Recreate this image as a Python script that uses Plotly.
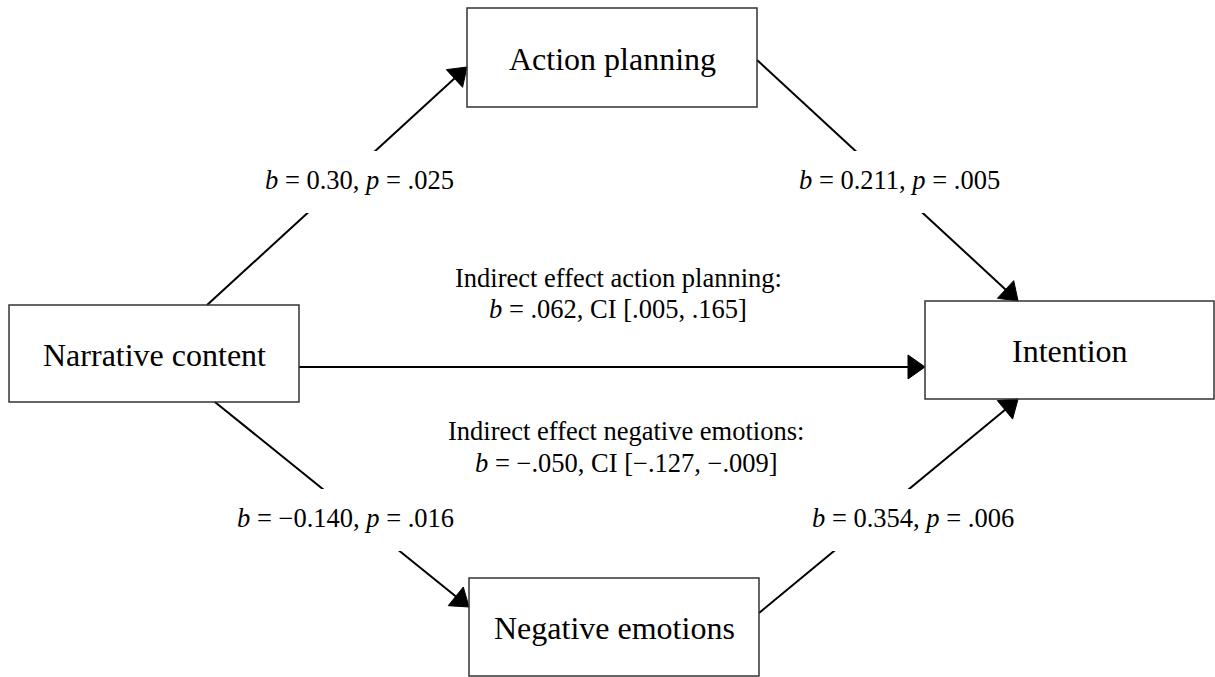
import math
import plotly.graph_objects as go

# ---- data ----
node_names = ["Narrative content", "Action planning", "Intention", "Negative emotions"]
node_x0 = [9, 467, 925, 469]
node_x1 = [299, 757, 1214, 759]
node_y0 = [305, 8, 301, 578]
node_y1 = [402, 107, 399, 676]

# edges: (source, source side, fraction along side, target, target side, fraction)
edge_src = [0, 1, 0, 0, 3]
edge_src_side = ["top", "right", "right", "bottom", "right"]
edge_src_frac = [0.683, 0.525, 0.64, 0.71, 0.357]
edge_dst = [1, 2, 2, 3, 2]
edge_dst_side = ["left", "top", "left", "left", "bottom"]
edge_dst_frac = [0.596, 0.322, 0.673, 0.296, 0.322]

edge_labels = [
    "<i>b</i> = 0.30, <i>p</i> = .025",
    "<i>b</i> = 0.211, <i>p</i> = .005",
    "<i>b</i> = \u22120.140, <i>p</i> = .016",
    "<i>b</i> = 0.354, <i>p</i> = .006",
]
edge_label_x = [263, 797, 235, 810]
edge_label_y = [180, 180, 518, 518]
edge_label_w = [190, 184, 220, 184]

indirect_text = [
    "Indirect effect action planning:",
    "<i>b</i> = .062, CI [.005, .165]",
    "Indirect effect negative emotions:",
    "<i>b</i> = \u2212.050, CI [\u2212.127, \u2212.009]",
]
indirect_cx = [618, 618, 626, 626]
indirect_y = [278, 309, 431, 463]

FONT = "'Liberation Serif', 'Times New Roman', Times, serif"


def anchor(i, side, f):
    x0, x1, y0, y1 = node_x0[i], node_x1[i], node_y0[i], node_y1[i]
    if side == "top":
        return x0 + f * (x1 - x0), y0
    if side == "bottom":
        return x0 + f * (x1 - x0), y1
    if side == "left":
        return x0, y0 + f * (y1 - y0)
    return x1, y0 + f * (y1 - y0)


shapes = []
HEAD_L, HEAD_W = 17, 12
for s, ss, sf, d, ds, df in zip(edge_src, edge_src_side, edge_src_frac,
                                edge_dst, edge_dst_side, edge_dst_frac):
    sx, sy = anchor(s, ss, sf)
    tx, ty = anchor(d, ds, df)
    dx, dy = tx - sx, ty - sy
    n = math.hypot(dx, dy)
    ux, uy = dx / n, dy / n
    bx, by = tx - HEAD_L * ux, ty - HEAD_L * uy
    px, py = -uy, ux
    shapes.append(dict(type="line", x0=sx, y0=sy, x1=bx + ux, y1=by + uy,
                       xref="x", yref="y", line=dict(color="black", width=2)))
    path = "M{:.2f},{:.2f} L{:.2f},{:.2f} L{:.2f},{:.2f} Z".format(
        tx, ty, bx + HEAD_W * px, by + HEAD_W * py, bx - HEAD_W * px, by - HEAD_W * py)
    shapes.append(dict(type="path", path=path, xref="x", yref="y",
                       fillcolor="black", line=dict(color="black", width=1)))

# white masks behind edge labels
for lx, ly, lw in zip(edge_label_x, edge_label_y, edge_label_w):
    shapes.append(dict(type="rect", x0=lx - 4, x1=lx + lw, y0=ly - 29, y1=ly + 33,
                       xref="x", yref="y", fillcolor="white", line=dict(width=0)))

# boxes
for x0, x1, y0, y1 in zip(node_x0, node_x1, node_y0, node_y1):
    shapes.append(dict(type="rect", x0=x0, x1=x1, y0=y0, y1=y1, xref="x", yref="y",
                       fillcolor="rgba(0,0,0,0)", line=dict(color="#333333", width=1.5)))

annotations = []
for name, x0, x1, y0, y1 in zip(node_names, node_x0, node_x1, node_y0, node_y1):
    annotations.append(dict(x=(x0 + x1) / 2, y=(y0 + y1) / 2 + 1, text=name, showarrow=False,
                            xanchor="center", yanchor="middle",
                            font=dict(family=FONT, size=32, color="black")))
for t, x, y in zip(edge_labels, edge_label_x, edge_label_y):
    annotations.append(dict(x=x, y=y, text=t, showarrow=False, xanchor="left",
                            yanchor="middle", font=dict(family=FONT, size=26.5, color="black")))
for t, x, y in zip(indirect_text, indirect_cx, indirect_y):
    annotations.append(dict(x=x, y=y, text=t, showarrow=False, xanchor="center",
                            yanchor="middle", font=dict(family=FONT, size=26.5, color="black")))

fig = go.Figure()
fig.update_layout(
    width=1215, height=677,
    margin=dict(l=0, r=0, t=0, b=0, pad=0),
    paper_bgcolor="white", plot_bgcolor="white",
    font=dict(family=FONT),
    xaxis=dict(range=[0, 1215], visible=False, fixedrange=True),
    yaxis=dict(range=[677, 0], visible=False, fixedrange=True),
    shapes=shapes, annotations=annotations, showlegend=False,
)
fig.write_html("out.html", config={"displayModeBar": False},
               post_script="document.body.style.margin='0';document.body.style.overflow='hidden';")
